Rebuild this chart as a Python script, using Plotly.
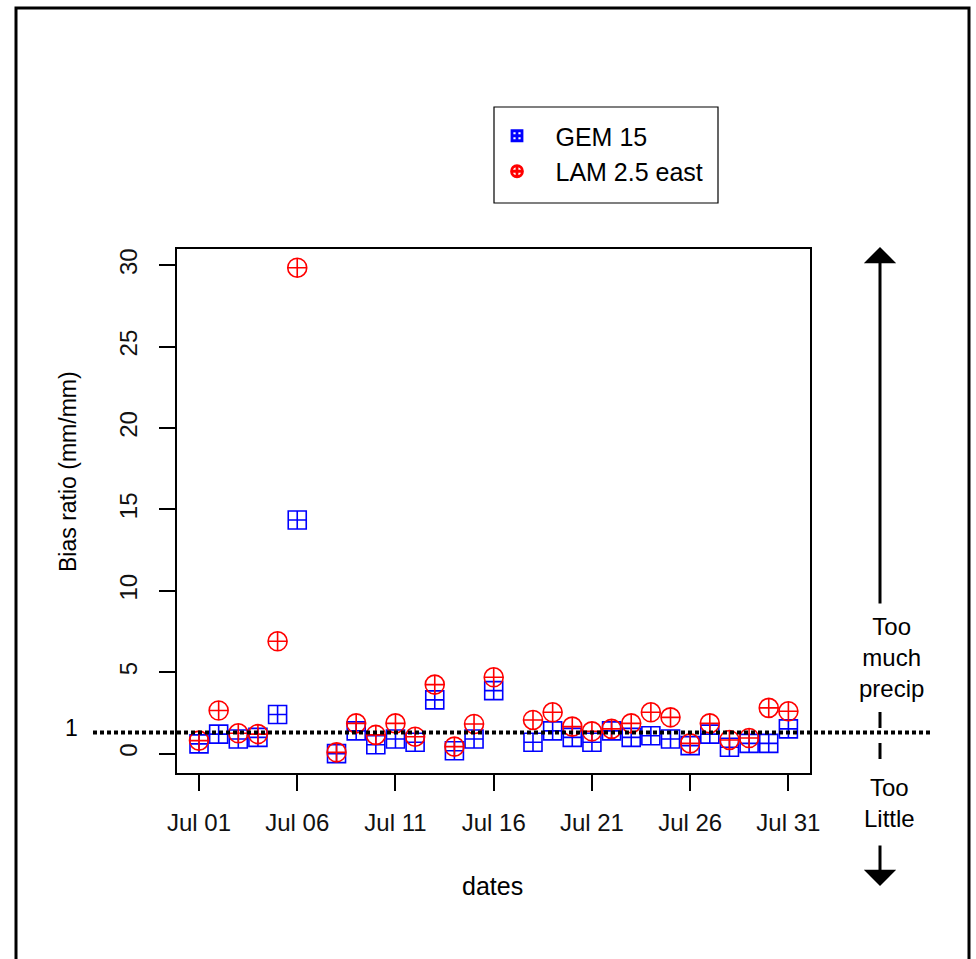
import plotly.graph_objects as go

# ---- data ----
dates = ["2011-07-01", "2011-07-02", "2011-07-03", "2011-07-04", "2011-07-05", "2011-07-06",
         "2011-07-08", "2011-07-09", "2011-07-10", "2011-07-11", "2011-07-12", "2011-07-13",
         "2011-07-14", "2011-07-15", "2011-07-16", "2011-07-18", "2011-07-19", "2011-07-20",
         "2011-07-21", "2011-07-22", "2011-07-23", "2011-07-24", "2011-07-25", "2011-07-26",
         "2011-07-27", "2011-07-28", "2011-07-29", "2011-07-30", "2011-07-31"]
gem15 = [0.6, 1.2, 0.9, 1.0, 2.4, 14.35, 0.0, 1.4, 0.55, 0.9, 0.7, 3.3, 0.18, 0.9, 3.87,
         0.7, 1.4, 1.0, 0.7, 1.4, 1.0, 1.1, 0.9, 0.49, 1.2, 0.39, 0.63, 0.63, 1.52]
lam25 = [0.8, 2.65, 1.25, 1.2, 6.9, 29.85, 0.08, 1.86, 1.15, 1.86, 1.04, 4.24, 0.43, 1.82, 4.69,
         2.07, 2.54, 1.66, 1.37, 1.52, 1.86, 2.54, 2.23, 0.63, 1.86, 0.84, 0.96, 2.81, 2.6]
tick_dates = ["2011-07-01", "2011-07-06", "2011-07-11", "2011-07-16", "2011-07-21",
              "2011-07-26", "2011-07-31"]
tick_labels = ["Jul 01", "Jul 06", "Jul 11", "Jul 16", "Jul 21", "Jul 26", "Jul 31"]
y_ticks = [0, 5, 10, 15, 20, 25, 30]
ref_level = 1.3  # dotted reference line labelled "1"

W, H = 976, 959
L, R, T, B = 177, 810, 249, 773
FONT = "Liberation Sans, Arial, Helvetica, sans-serif"


def px(x):
    return (x - L) / (R - L)


def py(y):
    return (B - y) / (B - T)


fig = go.Figure()
fig.add_trace(go.Scatter(x=dates, y=gem15, mode="markers", name="GEM 15", showlegend=False,
                         marker=dict(symbol="square-cross-open", size=18, color="#0000FF",
                                     line=dict(width=1.6, color="#0000FF"))))
fig.add_trace(go.Scatter(x=dates, y=lam25, mode="markers", name="LAM 2.5 east", showlegend=False,
                         marker=dict(symbol="circle-cross-open", size=19, color="#FF0000",
                                     line=dict(width=1.6, color="#FF0000"))))
# legend entries (small symbols like the reference)
fig.add_trace(go.Scatter(x=[None], y=[None], mode="markers", name="GEM 15",
                         marker=dict(symbol="square-cross-open", size=10, color="#0000FF",
                                     line=dict(width=2.8, color="#0000FF"))))
fig.add_trace(go.Scatter(x=[None], y=[None], mode="markers", name="LAM 2.5 east",
                         marker=dict(symbol="circle-cross-open", size=11, color="#FF0000",
                                     line=dict(width=2.8, color="#FF0000"))))

shapes = []
# outer frame
shapes.append(dict(type="rect", xref="paper", yref="paper", x0=px(16), x1=px(969),
                   y0=py(8), y1=py(975), line=dict(color="black", width=3)))
# legend box
shapes.append(dict(type="rect", xref="paper", yref="paper", x0=px(494), x1=px(718),
                   y0=py(107), y1=py(203), line=dict(color="black", width=1.2)))
# dotted reference line
shapes.append(dict(type="line", xref="paper", yref="y", x0=px(93), x1=px(930),
                   y0=ref_level, y1=ref_level, line=dict(color="black", width=4, dash="4px,3px")))
# short dashes at the arrow axis
shapes.append(dict(type="line", xref="paper", yref="paper", x0=px(880), x1=px(880),
                   y0=py(712), y1=py(728), line=dict(color="black", width=3)))
shapes.append(dict(type="line", xref="paper", yref="paper", x0=px(880), x1=px(880),
                   y0=py(743), y1=py(759), line=dict(color="black", width=3)))

C = dict(xanchor="center", yanchor="middle")
annotations = [
    dict(xref="paper", yref="paper", x=px(880), y=py(247), ax=0, ay=358, text="",
         showarrow=True, arrowhead=1, arrowsize=1.8, arrowwidth=3, arrowcolor="black"),
    dict(xref="paper", yref="paper", x=px(880), y=py(886), ax=0, ay=-42, text="",
         showarrow=True, arrowhead=1, arrowsize=1.8, arrowwidth=3, arrowcolor="black"),
    dict(xref="paper", yref="paper", x=px(891), y=py(657), text="Too<br>much<br>precip",
         showarrow=False, font=dict(family=FONT, size=24, color="black"), align="center", **C),
    dict(xref="paper", yref="paper", x=px(889), y=py(803), text="Too<br>Little",
         showarrow=False, font=dict(family=FONT, size=24, color="black"), align="center", **C),
    dict(xref="paper", yref="paper", x=px(71), y=py(728), text="1", showarrow=False,
         font=dict(family=FONT, size=23, color="black"), **C),
    dict(xref="paper", yref="paper", x=px(68), y=py(472), text="Bias ratio (mm/mm)",
         textangle=-90, showarrow=False, font=dict(family=FONT, size=23, color="black"), **C),
    dict(xref="paper", yref="paper", x=px(492), y=py(886), text="dates", showarrow=False,
         font=dict(family=FONT, size=25, color="black"), **C),
]

fig.update_layout(
    width=W, height=H,
    margin=dict(l=L, r=W - R, t=T, b=H - B, autoexpand=False),
    paper_bgcolor="white", plot_bgcolor="white",
    font=dict(family=FONT, size=24, color="black"),
    shapes=shapes, annotations=annotations,
    legend=dict(x=px(478.5), y=py(113), xanchor="left", yanchor="top",
                bgcolor="rgba(0,0,0,0)", borderwidth=0, itemwidth=67,
                font=dict(family=FONT, size=25, color="black"), tracegroupgap=0),
)
fig.update_xaxes(type="date", range=["2011-06-29 21:07", "2011-08-01 02:24"],
                 tickvals=tick_dates, ticktext=tick_labels, ticks="outside", ticklen=16,
                 tickwidth=1.5, tickcolor="black", showline=True, linecolor="black",
                 linewidth=1.5, mirror=True, showgrid=False, zeroline=False,
                 ticklabelstandoff=11, tickfont=dict(family=FONT, size=24, color="#111"))
fig.update_yaxes(range=[-1.19, 31.0], tickvals=y_ticks, ticks="outside", ticklen=16,
                 tickwidth=1.5, tickcolor="black", showline=True, linecolor="black",
                 linewidth=1.5, mirror=True, showgrid=False, zeroline=False, tickangle=-90,
                 ticklabelstandoff=13, tickfont=dict(family=FONT, size=24, color="#111"))

fig.write_html("out.html")
